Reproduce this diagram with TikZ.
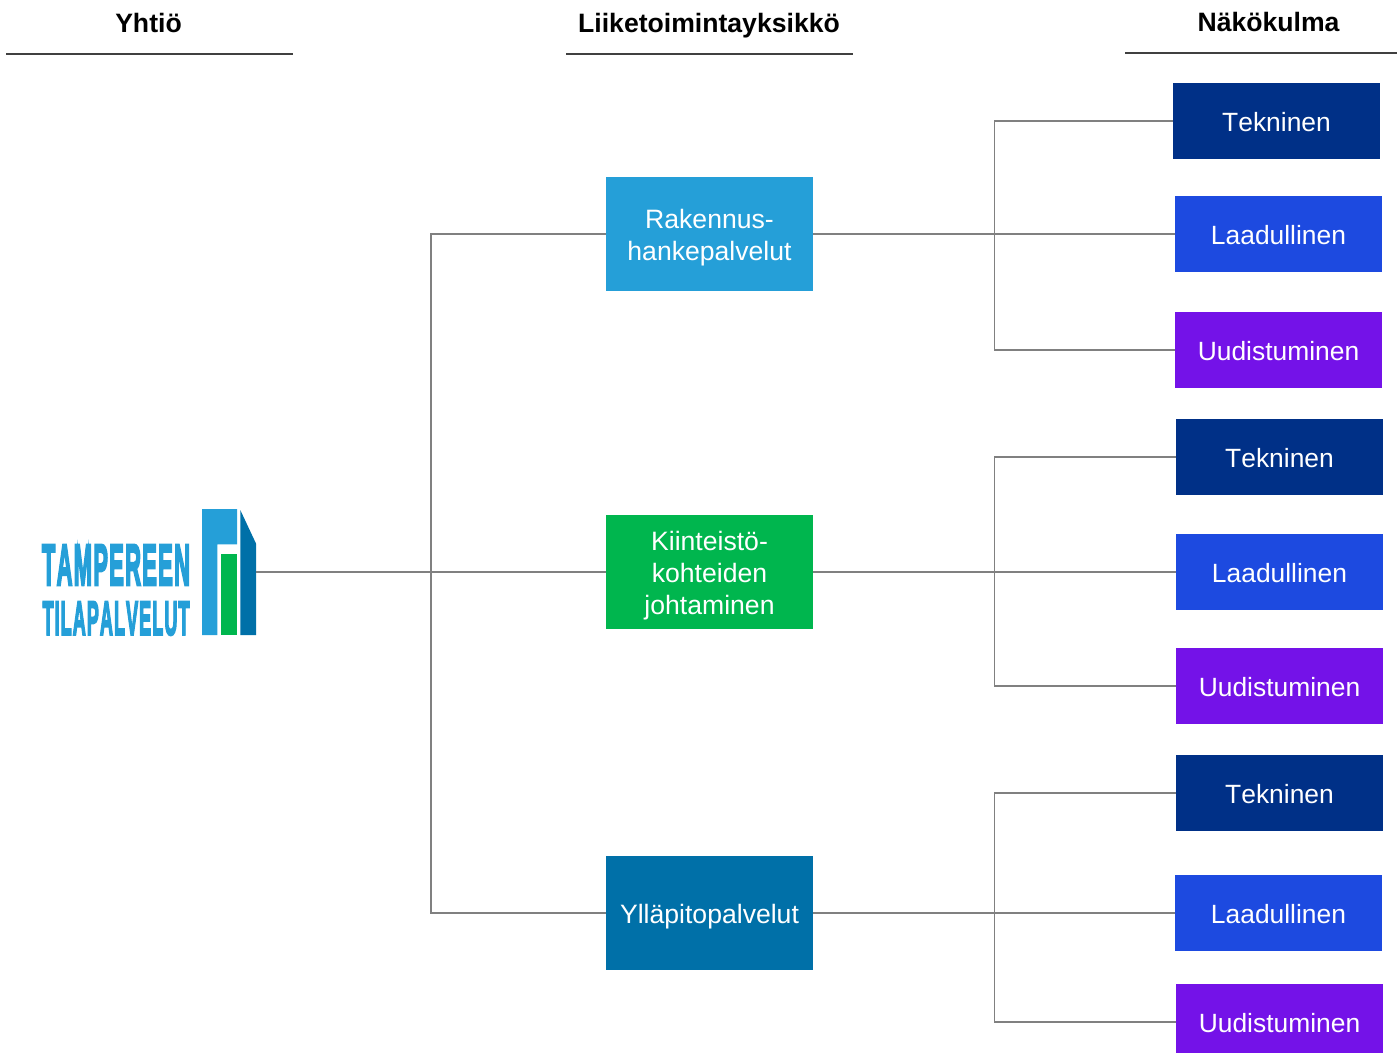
\documentclass[tikz,border=0pt]{standalone}
\usepackage{fontspec}
\usepackage{graphicx}
\setmainfont[Kerning=Off]{Liberation Sans}
\newfontfamily\logofont[Kerning=Off,BoldFeatures={FakeBold=5,LetterSpace=6}]{Liberation Sans}
\definecolor{ctek}{HTML}{003087}
\definecolor{claa}{HTML}{1D4AE0}
\definecolor{cuud}{HTML}{7412E8}
\definecolor{craK}{HTML}{259FD8}
\definecolor{ckii}{HTML}{00B64E}
\definecolor{cyll}{HTML}{0070A8}
\definecolor{cline}{HTML}{808080}
\definecolor{crule}{HTML}{404040}
\tikzset{
 x=1pt,y=-1pt,
 box/.style={rectangle,draw=none,inner sep=0pt,text=white,font=\fontsize{26.4}{32}\selectfont,align=center,minimum width=207pt},
 view/.style={box,minimum height=76pt,text height=21pt,text depth=0pt},
 unit/.style={box,font=\fontsize{26.6}{32}\selectfont,minimum height=114pt,text depth=0pt},
 head/.style={inner sep=0pt,font=\fontsize{26.6}{32}\selectfont\bfseries,text=black},
 conn/.style={draw=cline,line width=1.1pt},
 rulel/.style={draw=crule,line width=1.5pt},
 logotext/.style={inner sep=0pt,text=craK,font=\logofont\bfseries},
}
\begin{document}
\begin{tikzpicture}
\useasboundingbox (0,0) rectangle (1397,1053);
% headers
\node[head] (h1) at (148.5,23) {Yhtiö};
\node[head] (h2) at (709,26) {Liiketoimintayksikkö};
\node[head] (h3) at (1268.5,22) {Näkökulma};
\coordinate (r1a) at (6,54); \coordinate (r1b) at (293,54);
\coordinate (r2a) at (566,54); \coordinate (r2b) at (853,54);
\coordinate (r3a) at (1125,53); \coordinate (r3b) at (1397,53);
\draw[rulel] (r1a) -- (r1b);
\draw[rulel] (r2a) -- (r2b);
\draw[rulel] (r3a) -- (r3b);
% logo
\node[inner sep=0pt,minimum width=214pt,minimum height=126pt] (logo) at (149,572) {};
\fill[craK] (202,509) -- (237,509) -- (237,544.3) -- (217.3,544.3) -- (217.3,635) -- (202,635) -- cycle;
\fill[ckii] (221.3,554) rectangle (236.7,635);
\fill[cyll] (240.3,510) -- (256,543.5) -- (256,635) -- (240.3,635) -- cycle;
\node[logotext] (lt1) at (116,565) {\resizebox{148pt}{40pt}{TAMPEREEN}};
\node[logotext] (lt2) at (116,618.5) {\resizebox{147pt}{33pt}{TILAPALVELUT}};
% units
\node[unit,fill=craK,text height=52pt] (rak) at (709.5,234) {Rakennus-\\hankepalvelut};
\node[unit,fill=ckii,text height=84pt] (kii) at (709.5,572) {Kiinteistö-\\kohteiden\\johtaminen};
\node[unit,fill=cyll,text height=20pt] (yll) at (709.5,913) {Ylläpitopalvelut};
% views
\node[view,fill=ctek] (t1) at (1276.5,121) {Tekninen};
\node[view,fill=claa] (l1) at (1278.5,234) {Laadullinen};
\node[view,fill=cuud] (u1) at (1278.5,350) {Uudistuminen};
\node[view,fill=ctek] (t2) at (1279.5,457) {Tekninen};
\node[view,fill=claa] (l2) at (1279.5,572) {Laadullinen};
\node[view,fill=cuud] (u2) at (1279.5,686) {Uudistuminen};
\node[view,fill=ctek] (t3) at (1279.5,793) {Tekninen};
\node[view,fill=claa] (l3) at (1278.5,913) {Laadullinen};
\node[view,fill=cuud,minimum height=69pt,text height=28pt] (u3) at (1279.5,1018.5) {Uudistuminen};
% bus coordinates
\coordinate (busa) at (431,572);
\coordinate (busb) at (994.5,572);
% connectors
\draw[conn] (logo.east) -- (kii.west);
\draw[conn] (busa) |- (rak.west);
\draw[conn] (busa) |- (yll.west);
\draw[conn] (rak.east) -- (l1.west);
\draw[conn] (rak.east) -- (rak.east -| busb) |- (t1.west);
\draw[conn] (rak.east) -- (rak.east -| busb) |- (u1.west);
\draw[conn] (kii.east) -- (l2.west);
\draw[conn] (busb) |- (t2.west);
\draw[conn] (busb) |- (u2.west);
\draw[conn] (yll.east) -- (l3.west);
\draw[conn] (yll.east) -- (yll.east -| busb) |- (t3.west);
\draw[conn] (yll.east) -- (yll.east -| busb) |- (u3.west |- 0,1022);
\end{tikzpicture}
\end{document}
